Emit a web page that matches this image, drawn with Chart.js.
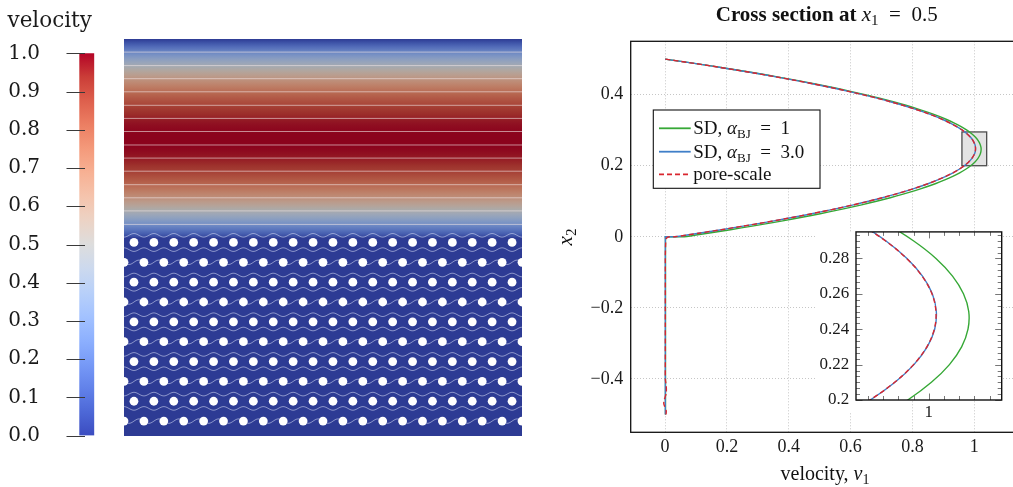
<!DOCTYPE html>
<html><head><meta charset="utf-8">
<script src="https://cdn.jsdelivr.net/npm/chart.js@4.4.1/dist/chart.umd.min.js"></script>
<style>
html,body{margin:0;padding:0;background:#fff;overflow:hidden;width:1013px;height:487px;}
#root{position:relative;width:1013px;height:487px;overflow:hidden;}
canvas{position:absolute;display:block;}
</style></head><body><div id="root">
<canvas id="cb" width="100" height="487" style="left:0;top:0"></canvas>
<canvas id="field" width="398" height="397" style="left:124px;top:39px"></canvas>
<canvas id="main" width="500" height="487" style="left:545px;top:0"></canvas>
<canvas id="inset" width="208" height="210" style="left:805px;top:215px"></canvas>
</div>
<script>
// ---------------- data ----------------
const x2 = [-0.5,-0.49,-0.47,-0.46,-0.44,-0.42,-0.4,-0.35,-0.3,-0.25,-0.2,-0.15,-0.1,-0.05,-0.02,-0.005,0,
  0,0.01,0.02,0.03,0.04,0.05,0.06,0.07,0.08,0.09,0.1,0.11,0.12,0.13,0.14,0.15,0.16,0.17,0.18,0.19,
  0.2,0.21,0.22,0.23,0.24,0.25,0.26,0.27,0.28,0.29,0.3,0.31,0.32,0.33,0.34,0.35,0.36,0.37,0.38,0.39,
  0.4,0.41,0.42,0.43,0.44,0.45,0.46,0.47,0.48,0.49,0.5];

const vSD1 = [0.0015,0.0015,0.0015,0.0015,0.0015,0.0015,0.0015,0.0015,0.0015,0.0015,0.0015,0.0015,0.0015,0.0015,0.0015,0.0015,0.0015,
  0.0618,0.1383,0.2116,0.2817,0.3486,0.4124,0.4730,0.5304,0.5847,0.6358,0.6837,0.7284,0.7700,0.8084,0.8436,0.8757,0.9046,0.9303,0.9528,0.9722,
  0.9884,1.0014,1.0113,1.0180,1.0215,1.0219,1.0190,1.0130,1.0039,0.9915,0.9760,0.9574,0.9355,0.9105,0.8823,0.8509,0.8164,0.7787,0.7378,0.6938,
  0.6466,0.5962,0.5426,0.4859,0.4260,0.3629,0.2967,0.2273,0.1547,0.0789,0];

const vSD3 = [0.001,0.001,0.001,0.001,0.001,0.001,0.001,0.001,0.001,0.001,0.001,0.001,0.001,0.001,0.001,0.001,0.001,
  0.0318,0.1087,0.1823,0.2528,0.3202,0.3844,0.4454,0.5033,0.5580,0.6095,0.6579,0.7031,0.7452,0.7841,0.8198,0.8524,0.8818,0.9080,0.9311,0.9510,
  0.9678,0.9814,0.9918,0.9991,1.0032,1.0041,1.0019,0.9965,0.9880,0.9763,0.9614,0.9434,0.9222,0.8979,0.8704,0.8397,0.8059,0.7689,0.7287,0.6854,
  0.6389,0.5893,0.5365,0.4805,0.4214,0.3591,0.2936,0.2250,0.1532,0.0782,0];

const vPore = [0.003,0.004,-0.004,-0.003,0.004,0.004,0.001,0.001,0.001,0.001,0.001,0.001,0.001,0.001,0.002,0.004,0.014,
  0.0316,0.1085,0.1821,0.2526,0.3200,0.3842,0.4452,0.5031,0.5578,0.6093,0.6577,0.7029,0.7450,0.7839,0.8196,0.8522,0.8816,0.9078,0.9309,0.9508,
  0.9676,0.9812,0.9916,0.9989,1.0030,1.0039,1.0017,0.9963,0.9878,0.9761,0.9612,0.9432,0.9220,0.8977,0.8702,0.8395,0.8057,0.7687,0.7285,0.6852,
  0.6387,0.5891,0.5363,0.4803,0.4212,0.3589,0.2934,0.2248,0.1530,0.0781,0];

const legendLabels = ['SD, α_BJ = 1', 'SD, α_BJ = 3.0', 'pore-scale'];
const mainXTicks = [0, 0.2, 0.4, 0.6, 0.8, 1];
const mainYTicks = [-0.4, -0.2, 0, 0.2, 0.4];
const zoomX = [0.96, 1.04];
const zoomY = [0.2, 0.295];
const insetXTicks = [1];
const insetYTicks = [0.2, 0.22, 0.24, 0.26, 0.28];
const cbTicks = [0, 0.1, 0.2, 0.3, 0.4, 0.5, 0.6, 0.7, 0.8, 0.9, 1.0];

// velocity field geometry (domain x1 in [0,1], x2 in [-0.5,0.5])
const streamY = [0.467, 0.433, 0.4, 0.367, 0.333, 0.3, 0.267, 0.233, 0.2, 0.167, 0.133, 0.1, 0.067, 0.033];
const rowY = [-0.0125, -0.0625, -0.1125, -0.1625, -0.2125, -0.2625, -0.3125, -0.3625, -0.4125, -0.4625];
const colOdd = [0.025,0.075,0.125,0.175,0.225,0.275,0.325,0.375,0.425,0.475,0.525,0.575,0.625,0.675,0.725,0.775,0.825,0.875,0.925,0.975];
const colEven = [0,0.05,0.1,0.15,0.2,0.25,0.3,0.35,0.4,0.45,0.5,0.55,0.6,0.65,0.7,0.75,0.8,0.85,0.9,0.95,1];

// ---------------- styles ----------------
const SERIF = '"Liberation Serif", "Times New Roman", serif';
const DSERIF = '"DejaVu Serif", serif';
const COL = {green:'#36a836', blue:'#3f7fc8', red:'#d9262f'};
const CW = [[59,76,192],[77,104,215],[98,130,234],[119,154,247],[141,176,254],[163,194,255],[184,208,249],[204,217,238],[221,221,221],[236,211,197],[245,196,173],[247,177,148],[244,154,123],[236,127,99],[222,96,77],[203,62,56],[180,4,38]];
function coolwarm(t){ t=Math.max(0,Math.min(1,t)); const n=CW.length-1; const f=t*n; const i=Math.min(n-1,Math.floor(f)); const u=f-i; return CW[i].map((c,k)=>c+(CW[i+1][k]-c)*u); }
function rgb(c,k){ k=k||1; return 'rgb('+Math.round(c[0]*k)+','+Math.round(c[1]*k)+','+Math.round(c[2]*k)+')'; }
const FIELD_SHADE = 0.77;

function fmt(v){ const a = Math.abs(v); const s = String(+a.toFixed(3)); return (v < -1e-9 ? '\u2212' : '') + s; }
function drawRich(ctx, parts, x, y, align){
  let w = 0; parts.forEach(p=>{ ctx.font = p[1]; w += ctx.measureText(p[0]).width; });
  let cx = align === 'center' ? x - w/2 : x;
  parts.forEach(p=>{ ctx.font = p[1]; ctx.fillText(p[0], cx, y + (p[2]||0)); cx += ctx.measureText(p[0]).width; });
}
function richLabel(str, size){
  const reg = size+'px '+SERIF, it = 'italic '+size+'px '+SERIF, sub = Math.round(size*0.7)+'px '+SERIF;
  const m = str.split('α_BJ');
  if (m.length === 1) return [[str, reg]];
  return [[m[0], reg], ['α', it], ['BJ', sub, 4], [m[1].replace(' = ', '  =  '), reg]];
}
const common = {responsive:false, animation:false, events:[]};
const noPlug = {legend:{display:false}, tooltip:{enabled:false}, title:{display:false}};

// ---------------- colour bar ----------------
const cbDecor = {
  id:'cbDecor',
  afterDraw(chart){
    const {ctx, scales:{y}} = chart;
    ctx.save();
    ctx.strokeStyle = '#3a3a3a'; ctx.lineWidth = 1;
    cbTicks.forEach(v=>{ const py = Math.round(y.getPixelForValue(v)) + 0.5; ctx.beginPath(); ctx.moveTo(66.5, py); ctx.lineTo(85, py); ctx.stroke(); });
    ctx.fillStyle = '#1a1a1a'; ctx.font = '21.5px '+DSERIF; ctx.textBaseline = 'alphabetic';
    ctx.fillText('velocity', 7.5, 27);
    ctx.restore();
  }
};
new Chart(document.getElementById('cb'), {
  type:'bar',
  data:{labels:[''], datasets:[{data:[[0,1]], borderWidth:0, barPercentage:1, categoryPercentage:1,
    backgroundColor:(c)=>{ const a = c.chart.chartArea; if(!a) return '#ccc';
      const g = c.chart.ctx.createLinearGradient(0, a.bottom, 0, a.top);
      CW.forEach((col,i)=>g.addColorStop(i/(CW.length-1), rgb(col)));
      return g; }}]},
  options:Object.assign({}, common, {
    layout:{autoPadding:false, padding:{top:53.3, bottom:50.3, right:5.7, left:0}},
    plugins:noPlug,
    scales:{
      x:{display:false},
      y:{min:0, max:1, afterBuildTicks:s=>{ s.ticks = cbTicks.map(v=>({value:v})); }, afterFit:s=>{ s.width = 79.3; },
        grid:{drawOnChartArea:false, drawTicks:false}, border:{display:false},
        ticks:{padding:39.3, color:'#1a1a1a', font:{family:DSERIF, size:20}, callback:v=>Number(v).toFixed(1)}}
    }}),
  plugins:[cbDecor]
});

// ---------------- velocity field ----------------
const fieldBg = {
  id:'fieldBg',
  beforeDatasetsDraw(chart){
    const {ctx, chartArea:a, scales:{x, y}} = chart;
    ctx.save();
    ctx.fillStyle = rgb(coolwarm(0), FIELD_SHADE);
    ctx.fillRect(a.left, a.top, a.width, a.height);
    const y0 = y.getPixelForValue(0), yTop = y.getPixelForValue(0.5);
    const g = ctx.createLinearGradient(0, yTop, 0, y0);
    for (let i = 17; i < x2.length; i++) {
      const off = (y.getPixelForValue(x2[i]) - yTop) / (y0 - yTop);
      g.addColorStop(Math.max(0, Math.min(1, off)), rgb(coolwarm(vPore[i]), FIELD_SHADE));
    }
    ctx.fillStyle = g;
    ctx.fillRect(a.left, yTop, a.width, y0 - yTop);
    // streamlines winding around the obstacles
    const period = x.getPixelForValue(colOdd[1]) - x.getPixelForValue(colOdd[0]);
    const ph0 = x.getPixelForValue(colOdd[0]), ph1 = x.getPixelForValue(colEven[0]);
    const dy = Math.abs(y.getPixelForValue(rowY[1]) - y.getPixelForValue(rowY[0]));
    ctx.strokeStyle = 'rgba(215,220,245,0.55)'; ctx.lineWidth = 1;
    rowY.forEach((rv, k)=>{
      const yc = y.getPixelForValue(rv);
      if (k % 2 === 0) {
        [-1, 1].forEach(s=>{
          ctx.beginPath();
          for (let X = a.left; X <= a.right; X += 1) {
            const Y = yc + s*(dy*0.36 + 1.8*Math.cos(2*Math.PI*(X-ph0)/period));
            if (X === a.left) ctx.moveTo(X, Y); else ctx.lineTo(X, Y);
          }
          ctx.stroke();
        });
      } else {
        ctx.beginPath();
        for (let X = a.left; X <= a.right; X += 1) {
          const Y = yc + 2.2*Math.sin(2*Math.PI*(X-ph1)/period);
          if (X === a.left) ctx.moveTo(X, Y); else ctx.lineTo(X, Y);
        }
        ctx.stroke();
      }
    });
    ctx.restore();
  }
};
const obstacles = [];
rowY.forEach((rv, k)=>{ (k % 2 === 0 ? colOdd : colEven).forEach(cx=>obstacles.push({x:cx, y:rv})); });
const fieldSets = streamY.map(s=>({data:[{x:0, y:s}, {x:1, y:s}], showLine:true, pointRadius:0, borderWidth:1, borderColor:'rgba(240,228,228,0.6)'}));
fieldSets.push({data:obstacles, pointRadius:4.4, pointBackgroundColor:'#ffffff', pointBorderColor:'#ffffff', pointBorderWidth:0, showLine:false});
new Chart(document.getElementById('field'), {
  type:'scatter',
  data:{datasets:fieldSets},
  options:Object.assign({}, common, {
    layout:{autoPadding:false, padding:0}, plugins:noPlug,
    scales:{x:{display:false, min:0, max:1}, y:{display:false, min:-0.5, max:0.5}}}),
  plugins:[fieldBg]
});

// ---------------- cross-section line chart ----------------
function mk(label, v, color, order, dash, tension){
  return {label, data:x2.map((yy,i)=>({x:v[i], y:yy})), showLine:true, pointRadius:0, borderWidth:1.4,
    borderColor:color, borderDash:dash||[], tension:tension, order};
}
const mainDecor = {
  id:'mainDecor',
  beforeDatasetsDraw(chart){
    const {ctx, scales:{x, y}} = chart;
    const xa = x.getPixelForValue(zoomX[0]), xb = x.getPixelForValue(zoomX[1]);
    const ya = y.getPixelForValue(zoomY[0]), yb = y.getPixelForValue(zoomY[1]);
    ctx.save(); ctx.fillStyle = '#e3e3e3'; ctx.fillRect(xa, yb, xb-xa, ya-yb);
    ctx.strokeStyle = '#4d4d4d'; ctx.lineWidth = 1.3; ctx.strokeRect(xa, yb, xb-xa, ya-yb); ctx.restore();
  },
  afterDraw(chart){
    const {ctx, chartArea:a} = chart;
    ctx.save();
    ctx.strokeStyle = '#111'; ctx.lineWidth = 1.3; ctx.strokeRect(a.left, a.top, a.width, a.height);
    // legend
    const lx = 108.3, ly = 110, lw = 166.7, lh = 78.3;
    ctx.fillStyle = '#fff'; ctx.fillRect(lx, ly, lw, lh);
    ctx.strokeStyle = '#111'; ctx.lineWidth = 1.1; ctx.strokeRect(lx, ly, lw, lh);
    const rows = [128.3, 151.7, 174.3];
    const ds = chart.data.datasets;
    [0,1,2].forEach(i=>{
      ctx.strokeStyle = ds[i].borderColor; ctx.lineWidth = 1.8; ctx.setLineDash(ds[i].borderDash);
      ctx.beginPath(); ctx.moveTo(114, rows[i]); ctx.lineTo(145.7, rows[i]); ctx.stroke();
      ctx.setLineDash([]);
      ctx.fillStyle = '#111'; ctx.textBaseline = 'alphabetic';
      drawRich(ctx, richLabel(ds[i].label, 19), 148.3, rows[i] + 6);
    });
    // title
    ctx.fillStyle = '#111';
    drawRich(ctx, [['Cross section at ', 'bold 21px '+SERIF], ['x', 'italic 21px '+SERIF], ['1', '15px '+SERIF, 4], ['  =  0.5', '21px '+SERIF]], 281.7, 20.7, 'center');
    // x title
    drawRich(ctx, [['velocity, ', '20px '+SERIF], ['v', 'italic 20px '+SERIF], ['1', '14px '+SERIF, 4]], 280, 480, 'center');
    // y title
    ctx.translate(27, 237); ctx.rotate(-Math.PI/2);
    drawRich(ctx, [['x', 'italic 21px '+SERIF], ['2', '15px '+SERIF, 4]], 0, 0, 'center');
    ctx.restore();
  }
};
const gridOpts = {color:'#b8b8b8', lineWidth:0.8, drawTicks:false};
new Chart(document.getElementById('main'), {
  type:'scatter',
  data:{datasets:[
    mk(legendLabels[0], vSD1, COL.green, 3, null, 0.2),
    mk(legendLabels[1], vSD3, COL.blue, 2, null, 0.2),
    mk(legendLabels[2], vPore, COL.red, 1, [5,3], 0.2)
  ]},
  options:Object.assign({}, common, {
    layout:{autoPadding:false, padding:{top:41.3, right:24, left:0, bottom:0}},
    plugins:noPlug,
    scales:{
      x:{type:'linear', min:-0.111, max:1.151,
        afterBuildTicks:s=>{ s.ticks = mainXTicks.map(v=>({value:v})); }, afterFit:s=>{ s.height = 54.7; },
        grid:gridOpts, border:{display:false, dash:[1,2]},
        ticks:{padding:4, color:'#1a1a1a', font:{family:SERIF, size:18}, callback:v=>fmt(v), maxRotation:0, autoSkip:false}},
      y:{type:'linear', min:-0.55, max:0.55,
        afterBuildTicks:s=>{ s.ticks = mainYTicks.map(v=>({value:v})); }, afterFit:s=>{ s.width = 85.7; },
        grid:gridOpts, border:{display:false, dash:[1,2]},
        ticks:{padding:7.5, color:'#1a1a1a', font:{family:SERIF, size:18}, callback:v=>fmt(v), autoSkip:false}}
    }}),
  plugins:[mainDecor]
});

// ---------------- inset (zoom) ----------------
const insetDecor = {
  id:'insetDecor',
  beforeDraw(chart){
    const {ctx, chartArea:a} = chart;
    ctx.save(); ctx.fillStyle = '#fff';
    ctx.fillRect(10, a.top, a.left - 10, 198 - a.top);
    ctx.fillRect(a.left, a.top, a.width, a.height);
    ctx.restore();
  },
  afterDraw(chart){
    const {ctx, chartArea:a, scales:{x, y}} = chart;
    ctx.save();
    ctx.strokeStyle = '#777'; ctx.lineWidth = 1;
    const ys = 0.02/6, xs = 0.05/6;
    for (let k = Math.ceil(zoomY[0]/ys - 1e-6); k <= Math.floor(zoomY[1]/ys + 1e-6); k++) {
      const py = Math.round(y.getPixelForValue(k*ys)) + 0.5; const len = (k % 6 === 0) ? 6.5 : 4;
      ctx.beginPath(); ctx.moveTo(a.left, py); ctx.lineTo(a.left+len, py); ctx.moveTo(a.right, py); ctx.lineTo(a.right-len, py); ctx.stroke();
    }
    for (let k = Math.ceil(zoomX[0]/xs - 1e-6); k <= Math.floor(zoomX[1]/xs + 1e-6); k++) {
      const px = Math.round(x.getPixelForValue(k*xs)) + 0.5; const len = (k % 6 === 0) ? 6.5 : 4;
      ctx.beginPath(); ctx.moveTo(px, a.top); ctx.lineTo(px, a.top+len); ctx.moveTo(px, a.bottom); ctx.lineTo(px, a.bottom-len); ctx.stroke();
    }
    ctx.strokeStyle = '#111'; ctx.lineWidth = 1.4; ctx.strokeRect(a.left, a.top, a.width, a.height);
    ctx.restore();
  }
};
new Chart(document.getElementById('inset'), {
  type:'scatter',
  data:{datasets:[
    mk(legendLabels[0], vSD1, COL.green, 3, null, 0.35),
    mk(legendLabels[1], vSD3, COL.blue, 2, null, 0.35),
    mk(legendLabels[2], vPore, COL.red, 1, [5,3], 0.35)
  ]},
  options:Object.assign({}, common, {
    layout:{autoPadding:false, padding:{top:12.7, right:11.3, left:0, bottom:0}},
    plugins:noPlug,
    scales:{
      x:{type:'linear', min:zoomX[0], max:zoomX[1],
        afterBuildTicks:s=>{ s.ticks = insetXTicks.map(v=>({value:v})); }, afterFit:s=>{ s.height = 25; },
        grid:{display:false, drawTicks:false}, border:{display:false},
        ticks:{padding:2.5, color:'#1a1a1a', font:{family:SERIF, size:17}, callback:v=>fmt(v), maxRotation:0, autoSkip:false}},
      y:{type:'linear', min:zoomY[0], max:zoomY[1],
        afterBuildTicks:s=>{ s.ticks = insetYTicks.map(v=>({value:v})); }, afterFit:s=>{ s.width = 51; },
        grid:{display:false, drawTicks:false}, border:{display:false},
        ticks:{padding:6.7, color:'#1a1a1a', font:{family:SERIF, size:17}, callback:v=>fmt(v), autoSkip:false}}
    }}),
  plugins:[insetDecor]
});
</script></body></html>
